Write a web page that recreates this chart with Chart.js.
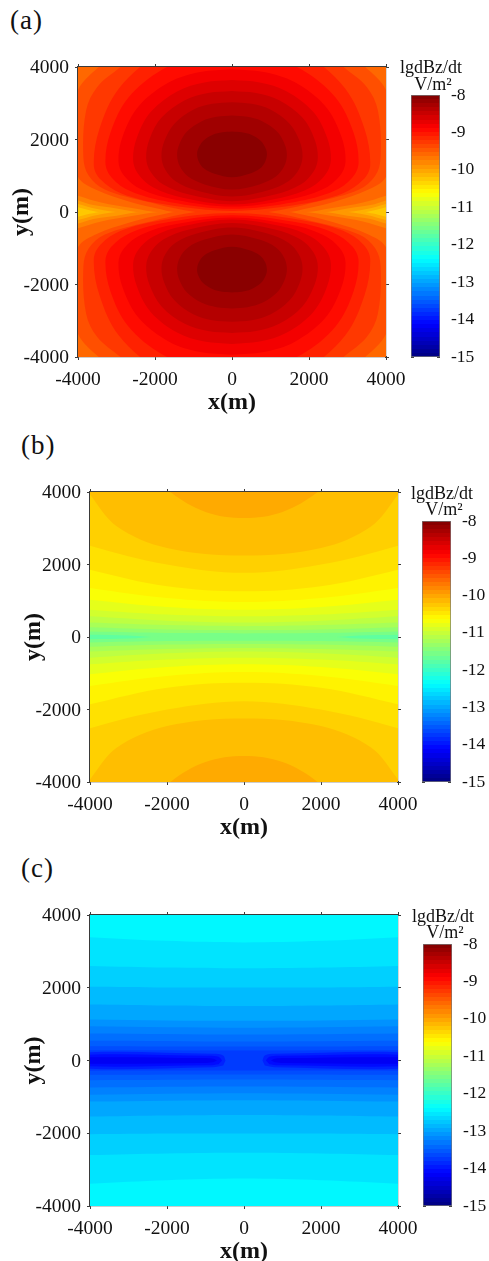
<!DOCTYPE html>
<html>
<head>
<meta charset="utf-8">
<title>lgdBz/dt maps</title>
<script src="https://cdn.jsdelivr.net/npm/chart.js@4"></script>
<style>
  html, body { margin: 0; padding: 0; background: #fff; }
  body { position: relative; width: 489px; height: 1261px; overflow: hidden; font-family: "Liberation Serif", serif; color: #111; }
  canvas { position: absolute; }
  .tag { position: absolute; font-size: 27px; line-height: 30px; letter-spacing: 1px; }
  .unit { position: absolute; font-size: 18px; line-height: 17px; text-align: center; transform: translateX(-50%); white-space: nowrap; }
</style>
</head>
<body>
<script>
const xTicks = [-4000, -2000, 0, 2000, 4000];
const yTicks = [4000, 2000, 0, -2000, -4000];
const barTicks = [-8, -9, -10, -11, -12, -13, -14, -15];

// panel (a): band near y=0, lower edges of the outer contours, metres, x from 0 outwards
const aBase = -10.25;
const aOpenLevels = [-10.08, -9.92, -9.75, -9.59];
const aOpenCurves = [
  [[0, -10], [3350, -10], [3700, 50], [4000, 130], [4600, 220]],
  [[0, -10], [2850, -10], [3500, 80], [4000, 220], [4600, 350]],
  [[0, -10], [2300, -10], [3000, 100], [3600, 190], [4000, 320], [4600, 500]],
  [[0, -10], [1850, -10], [2600, 110], [3400, 260], [4000, 450], [4600, 650]]
];
// panel (a): rings round the upper lobe, top centre -> right -> bottom centre
const aRingLevels = [-9.42, -9.26, -9.1, -8.95, -8.8, -8.65, -8.5, -8.36, -8.22, -8.07];
const aRings = [
  [[0, 5700], [2200, 5100], [3460, 4000], [4000, 3365], [4250, 2200], [4000, 975], [3500, 600], [2700, 300], [2000, 110], [1400, -10], [0, -10]],
  [[0, 5300], [2000, 4800], [2898, 4000], [3500, 3450], [3790, 2800], [3860, 1500], [3720, 1000], [3300, 620], [2200, 280], [900, -10], [0, -10]],
  [[0, 4800], [1005, 4695], [1975, 4310], [2944, 3400], [3446, 2280], [3590, 1300], [3411, 894], [2872, 513], [1795, 220], [0, 30]],
  [[0, 4350], [920, 4260], [1808, 3930], [2695, 3150], [3156, 2190], [3287, 1350], [3123, 947], [2630, 569], [1644, 279], [0, 90]],
  [[0, 3940], [826, 3864], [1623, 3584], [2419, 2924], [2832, 2111], [2950, 1400], [2803, 1000], [2360, 625], [1475, 338], [0, 150]],
  [[0, 3640], [720, 3574], [1414, 3333], [2107, 2764], [2467, 2063], [2570, 1450], [2442, 1053], [2056, 681], [1285, 396], [0, 210]],
  [[0, 3340], [624, 3285], [1227, 3082], [1829, 2604], [2141, 2015], [2230, 1500], [2119, 1116], [1784, 756], [1115, 480], [0, 300]],
  [[0, 3030], [513, 2985], [1008, 2820], [1502, 2430], [1759, 1950], [1832, 1530], [1740, 1178], [1466, 848], [916, 595], [0, 430]],
  [[0, 2660], [399, 2627], [784, 2506], [1169, 2220], [1369, 1868], [1426, 1560], [1355, 1259], [1141, 977], [713, 761], [0, 620]],
  [[0, 2220], [254, 2201], [499, 2132], [744, 1968], [870, 1766], [907, 1590], [862, 1388], [726, 1199], [454, 1055], [0, 960]]
];

// panel (b)
const bBase = -11.72;
const bLevels = [-11.55, -11.38, -11.22, -11.08, -10.94, -10.8, -10.66, -10.54, -10.42, -10.3, -10.18, -10.04];
const bCurves = [
  [[0, -10], [2200, -10], [3000, 40], [4000, 60], [4600, 70]],
  [[0, 100], [2000, 110], [4000, 150], [4600, 160]],
  [[0, 190], [2000, 210], [4000, 270], [4600, 290]],
  [[0, 300], [2000, 330], [4000, 400], [4600, 420]],
  [[0, 400], [2000, 450], [4000, 570], [4600, 610]],
  [[0, 570], [2000, 620], [4000, 754], [4600, 810]],
  [[0, 754], [2000, 830], [4000, 1030], [4600, 1110]],
  [[0, 965], [2000, 1075], [4000, 1351], [4600, 1460]],
  [[0, 1259], [2000, 1397], [4000, 1857], [4600, 2050]],
  [[0, 1770], [2000, 2000], [4000, 2520], [4600, 2800]],
  [[0, 2245], [2000, 2455], [3300, 3050], [4000, 3930], [4600, 4800]],
  [[0, 3283], [1000, 3450], [1910, 4000], [2500, 4700]]
];

// panel (c)
const cBase = -13.72;
const cLevels = [-13.6, -13.48, -13.36, -13.24, -13.12, -12.98, -12.84, -12.7, -12.56, -12.42];
const cCurves = [
  [[0, 276], [4000, 280], [4600, 285]],
  [[0, 386], [4000, 395], [4600, 400]],
  [[0, 525], [4000, 545], [4600, 550]],
  [[0, 717], [4000, 745], [4600, 755]],
  [[0, 900], [4000, 940], [4600, 950]],
  [[0, 1090], [4000, 1130], [4600, 1140]],
  [[0, 1495], [2000, 1510], [4000, 1540], [4600, 1550]],
  [[0, 2010], [2000, 2010], [4000, 2030], [4600, 2040]],
  [[0, 2535], [2000, 2555], [4000, 2600], [4600, 2620]],
  [[0, 3245], [2000, 3290], [4000, 3390], [4600, 3440]]
];
// panel (c): dark strip either side of the centre gap
const cStripLevels = [-13.9, -14.05, -14.2];
const cStrips = [
  [[480, 0], [540, 140], [800, 185], [4600, 185], [4600, -185], [800, -185], [540, -140]],
  [[570, 0], [660, 100], [900, 130], [4600, 130], [4600, -130], [900, -130], [660, -100]],
  [[700, 0], [800, 50], [1050, 70], [4600, 70], [4600, -70], [1050, -70], [800, -50]]
];

// matlab jet, v runs over the colourbar range -15..-8
function jet(v) {
  const t = (v + 15) / 7;
  const ch = c => Math.round(255 * Math.max(0, Math.min(1, 1.5 - Math.abs(4 * t - c))));
  return `rgb(${ch(3)},${ch(2)},${ch(1)})`;
}

function mirrorX(arc) {
  return arc.concat(arc.slice(0, -1).reverse().map(p => [-p[0], p[1]]));
}
function flipY(shape) {
  return shape.map(p => [p[0], -p[1]]);
}
// curve is the lower edge of a region that runs off the top of the plot
function openUp(curve) {
  return [[0, 7000], [7000, 7000]].concat(curve.slice().reverse());
}

function band(shape, level) {
  return {
    type: "scatter",
    showLine: true,
    data: shape.map(p => ({ x: p[0], y: p[1] })),
    backgroundColor: jet(level),
    borderWidth: 0,
    pointRadius: 0,
    tension: 0.35,
    capBezierPoints: false,
    fill: "shape"
  };
}
function bothHalves(arc, level) {
  const shape = mirrorX(arc);
  return [band(shape, level), band(flipY(shape), level)];
}
const wholePlot = [[-7000, -7000], [7000, -7000], [7000, 7000], [-7000, 7000]];

function panelBands(base, levels, curves) {
  let out = [band(wholePlot, base)];
  curves.forEach((c, i) => { out = out.concat(bothHalves(openUp(c), levels[i])); });
  return out;
}

const aBands = panelBands(aBase, aOpenLevels, aOpenCurves);
aRings.forEach((r, i) => aBands.push(...bothHalves(r, aRingLevels[i])));
const bBands = panelBands(bBase, bLevels, bCurves);
const cBands = panelBands(cBase, cLevels, cCurves);
cStrips.forEach((s, i) => {
  cBands.push(band(s, cStripLevels[i]));
  cBands.push(band(s.map(p => [-p[0], p[1]]), cStripLevels[i]));
});

function addCanvas(left, top, w, h) {
  const c = document.createElement("canvas");
  c.width = w;
  c.height = h;
  c.style.left = left + "px";
  c.style.top = top + "px";
  document.body.appendChild(c);
  return c;
}
function addText(cls, left, top, html) {
  const d = document.createElement("div");
  d.className = cls;
  d.style.left = left + "px";
  d.style.top = top + "px";
  d.innerHTML = html;
  document.body.appendChild(d);
}

const axisColor = "#3a3a3a";
const tickFont = { family: "Liberation Serif", size: 19.5 };
const titleFont = { family: "Liberation Serif", size: 24, weight: "bold" };

// tick labels may hang past the plot, so drop the padding the scale asks for
function clearPadding(s) {
  s.paddingLeft = 0;
  s.paddingRight = 0;
  s.paddingTop = 0;
  s.paddingBottom = 0;
}

function sideAxis(position, values, size, extra) {
  const horizontal = position === "top" || position === "bottom";
  return Object.assign({
    type: "linear",
    position: position,
    min: -4000,
    max: 4000,
    border: { color: axisColor, width: 1.2 },
    grid: { drawOnChartArea: false, color: axisColor, tickLength: 3, tickWidth: 1 },
    ticks: { display: false },
    afterBuildTicks: s => { s.ticks = values.map(v => ({ value: v })); },
    afterFit: s => {
      if (horizontal) s.height = size; else s.width = size;
      clearPadding(s);
    }
  }, extra || {});
}

// box = plot rectangle in page pixels
function mapChart(box, titleLeftPad, bands) {
  const canvasTop = box.top - 27;
  const canvasW = 430;
  const canvasH = box.bottom - canvasTop + 60;
  const canvas = addCanvas(0, canvasTop, canvasW, canvasH);
  new Chart(canvas, {
    type: "scatter",
    data: { datasets: bands.slice().reverse() }, // first dataset paints last
    options: {
      responsive: false,
      animation: false,
      layout: { padding: 0, autoPadding: false },
      plugins: { legend: { display: false }, tooltip: { enabled: false } },
      scales: {
        x: sideAxis("bottom", xTicks, 60, {
          ticks: { display: true, maxRotation: 0, autoSkip: false, padding: 8, color: "#111", font: tickFont, callback: v => String(v) },
          title: { display: true, text: "x(m)", color: "#111", font: titleFont, padding: { top: 0, bottom: 0 } }
        }),
        y: sideAxis("left", yTicks, box.left, {
          ticks: { display: true, autoSkip: false, padding: 6, labelOffset: 1, color: "#111", font: tickFont, callback: v => String(v) },
          title: { display: true, text: "y(m)", color: "#111", font: titleFont, padding: { top: titleLeftPad, bottom: 0 } }
        }),
        xTop: sideAxis("top", xTicks, 27),
        yRight: sideAxis("right", yTicks, canvasW - box.right)
      }
    }
  });
}

function colorBar(box) {
  const pad = 14;
  const canvas = addCanvas(box.left, box.top - pad, 489 - box.left, box.bottom - box.top + 2 * pad);
  const barW = box.right - box.left;
  new Chart(canvas, {
    type: "bar",
    data: {
      labels: [""],
      datasets: [{
        data: [[barTicks[barTicks.length - 1], barTicks[0]]],
        barPercentage: 1,
        categoryPercentage: 1,
        borderColor: "#777",
        borderWidth: 1,
        borderSkipped: false,
        backgroundColor: ctx => {
          const area = ctx.chart.chartArea;
          if (!area) return "transparent";
          const g = ctx.chart.ctx.createLinearGradient(0, area.top, 0, area.bottom);
          const n = 64;
          for (let k = 0; k < n; k++) {
            const col = jet(-8 - 7 * (k + 0.5) / n);
            g.addColorStop(k / n, col);
            g.addColorStop((k + 1) / n, col);
          }
          return g;
        }
      }]
    },
    options: {
      responsive: false,
      animation: false,
      layout: { padding: { top: pad, bottom: pad }, autoPadding: false },
      plugins: { legend: { display: false }, tooltip: { enabled: false } },
      scales: {
        x: { display: false },
        y: {
          position: "right",
          min: -15,
          max: -8,
          border: { display: false },
          grid: { drawOnChartArea: false, color: "#444", tickLength: -3 },
          ticks: { autoSkip: false, padding: 14, color: "#111", font: { family: "Liberation Serif", size: 17.5 }, callback: v => String(v) },
          afterBuildTicks: s => { s.ticks = barTicks.map(v => ({ value: v })); },
          afterFit: s => { s.width = 489 - box.left - barW; clearPadding(s); }
        },
        yLeft: {
          position: "left",
          min: -15,
          max: -8,
          border: { display: false },
          grid: { drawOnChartArea: false, color: "#444", tickLength: -3 },
          ticks: { display: false },
          afterBuildTicks: s => { s.ticks = barTicks.map(v => ({ value: v })); },
          afterFit: s => { s.width = 0; clearPadding(s); }
        }
      }
    }
  });
}

mapChart({ left: 78, right: 386, top: 67, bottom: 357 }, 7, aBands);
mapChart({ left: 90, right: 398, top: 492, bottom: 782 }, 19, bBands);
mapChart({ left: 90, right: 398, top: 915, bottom: 1206 }, 19, cBands);

colorBar({ left: 411, right: 440, top: 95, bottom: 357 });
colorBar({ left: 422, right: 451, top: 521, bottom: 782 });
colorBar({ left: 423, right: 452, top: 944, bottom: 1206 });

addText("tag", 10, 5, "(a)");
addText("tag", 21, 430, "(b)");
addText("tag", 21, 853, "(c)");

addText("unit", 431, 59, "lgdBz/dt");
addText("unit", 433, 76, "V/m²");
addText("unit", 442, 485, "lgdBz/dt");
addText("unit", 444, 501, "V/m²");
addText("unit", 443, 908, "lgdBz/dt");
addText("unit", 445, 924, "V/m²");
</script>
</body>
</html>
